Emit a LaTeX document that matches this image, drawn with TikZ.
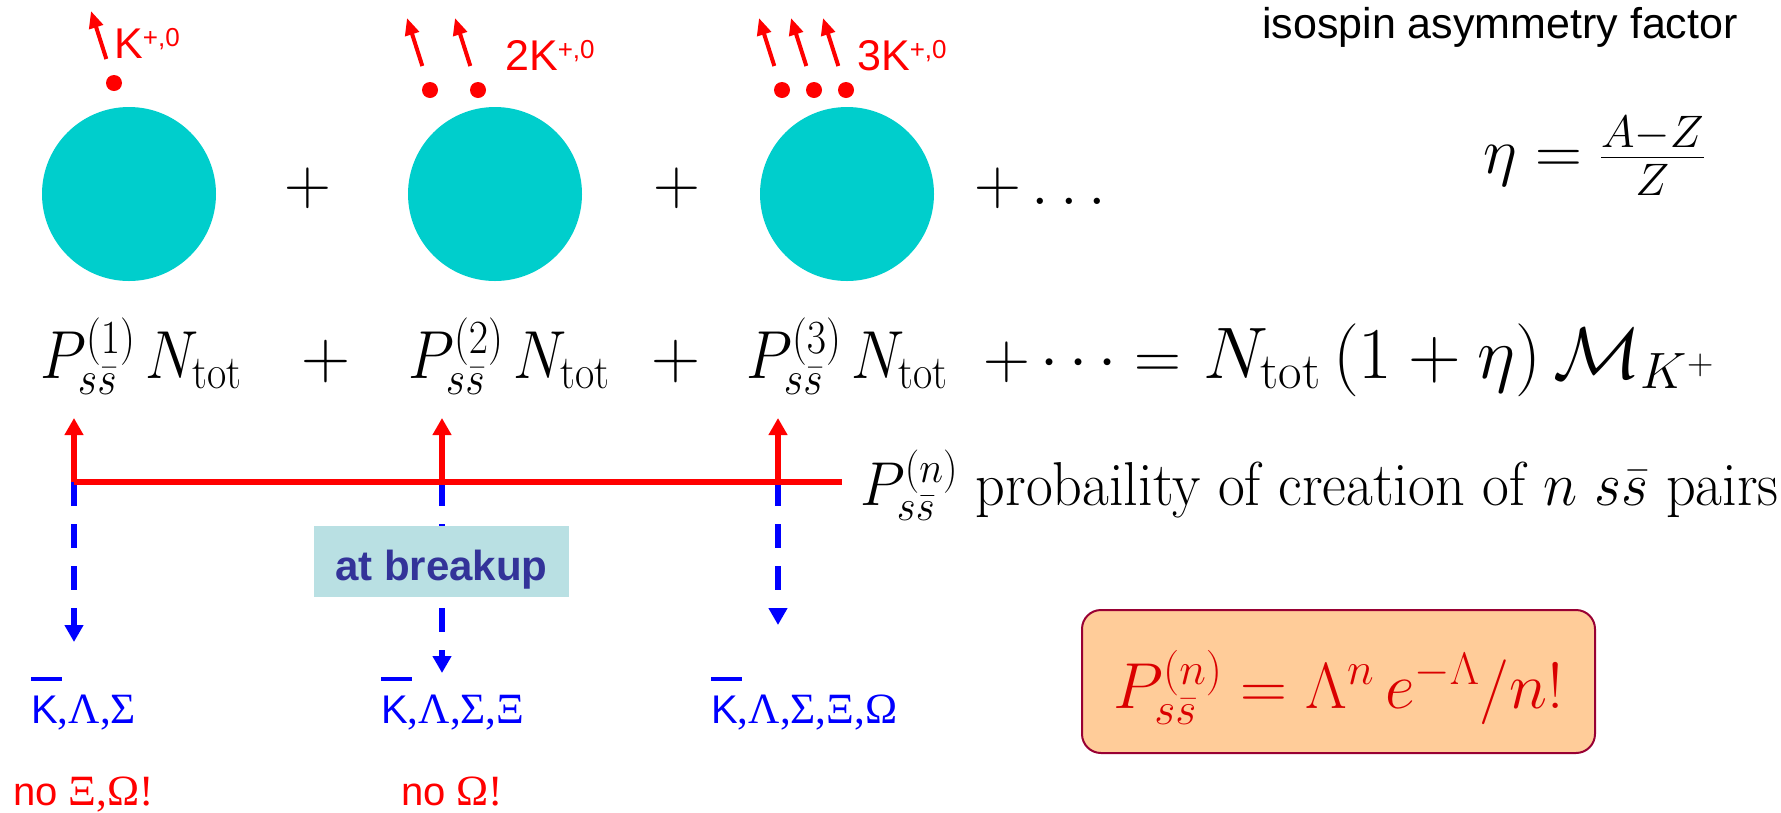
\RequirePackage{fix-cm}
\documentclass[tikz,border=0pt]{standalone}
\usepackage{fontspec}
\setsansfont{Liberation Sans}
\newfontfamily\grk[Scale=1.08]{Liberation Serif}
\usetikzlibrary{arrows.meta,calc}
\definecolor{nucleus}{RGB}{0,206,204}
\definecolor{kred}{RGB}{255,0,0}
\definecolor{hblue}{RGB}{0,0,255}
\definecolor{tagfill}{RGB}{185,224,227}
\definecolor{tagtext}{RGB}{51,51,153}
\definecolor{boxfill}{RGB}{255,204,153}
\definecolor{boxline}{RGB}{153,0,51}
\definecolor{formred}{RGB}{218,0,0}
\newcommand{\fsz}[1]{\fontsize{#1}{#1}\selectfont}
\newcommand{\kaons}[1]{#1K\raisebox{12pt}{\fsz{26}+,0}}
\newcommand{\antiK}{\rlap{\raisebox{1.05em}{\rule{0.78em}{0.09em}}}K}

\begin{document}
\begin{tikzpicture}[x=1pt,y=-1pt,
  nuc/.style={circle,fill=nucleus,minimum size=174pt,inner sep=0pt},
  kdot/.style={circle,fill=kred,minimum size=16pt,inner sep=0pt},
  kfly/.style={kred,line width=4pt,-{Triangle[width=14pt,length=17pt]},shorten <=17pt},
  klabel/.style={anchor=base west,inner sep=0pt,text=kred,font=\sffamily\fsz{43}},
  bigplus/.style={inner sep=0pt,font=\fsz{65}},
  term/.style={anchor=base west,inner sep=0pt,font=\fsz{68}},
  feed/.style={kred,line width=5.5pt},
  feedup/.style={feed,-{Triangle[width=18pt,length=17pt]}},
  drop/.style={hblue,line width=6pt,dash pattern=on 24pt off 18pt,-{Triangle[width=18pt,length=17pt]}},
  tag/.style={fill=tagfill,text=tagtext,font=\sffamily\bfseries\fsz{42},minimum width=255pt,
    minimum height=71pt,inner sep=0pt,text height=37pt,text depth=0pt},
  hyp/.style={anchor=base west,inner sep=0pt,text=hblue,font=\sffamily\fsz{40}},
  miss/.style={anchor=base west,inner sep=0pt,text=kred,font=\sffamily\fsz{40}},
  poisson/.style={draw=boxline,line width=2pt,fill=boxfill,rounded corners=19pt,
    minimum width=513pt,minimum height=143pt,inner sep=0pt,text=formred,font=\fsz{65},
    text height=60pt,text depth=7pt}]
\fill[white] (0,0) rectangle (1781,812);
\useasboundingbox (0,0) rectangle (1781,812);

% ---------------- nuclei with emitted kaons ----------------
\node[nuc] (c1) at (129,194) {};
\node[nuc] (c2) at (495,194) {};
\node[nuc] (c3) at (847,194) {};
\node[kdot] (d1) at (114,83) {};
\node[kdot] (d2a) at (430,90) {};
\node[kdot] (d2b) at (478,90) {};
\node[kdot] (d3a) at (782,90) {};
\node[kdot] (d3b) at (814,90) {};
\node[kdot] (d3c) at (846,90) {};
\foreach \d in {d1,d2a,d2b,d3a,d3b,d3c}{
  \coordinate (\d-tip) at ($(\d)+(-23,-72)$);
  \draw[kfly] (\d) -- (\d-tip);
}
\node[klabel] (k1) at (114,58) {\kaons{}};
\node[klabel] (k2) at (505,70) {\kaons{2}};
\node[klabel] (k3) at (857,70) {\kaons{3}};
\node[bigplus] (p1) at (308,188) {$+$};
\node[bigplus] (p2) at (677,188) {$+$};
\node[bigplus,anchor=base west] (pmore) at (974,204) {$+\ldots$};

% isospin factor
\node[anchor=base west,inner sep=0pt,font=\sffamily\fsz{43}] (iso) at (1262,38)
  {isospin asymmetry factor};
\node[anchor=base west,inner sep=0pt,font=\fsz{65}] (eta) at (1483,173)
  {$\eta = \frac{A-Z}{Z}$};

% ---------------- multiplicity sum ----------------
\node[term] (t1) at (40,378) {\scalebox{0.88}[1]{$P^{(1)}_{s\bar s}\,N_{\mathrm{tot}}$}};
\node[term,anchor=base] (q1) at (326,378) {$+$};
\node[term] (t2) at (408,378) {\scalebox{0.88}[1]{$P^{(2)}_{s\bar s}\,N_{\mathrm{tot}}$}};
\node[term,anchor=base] (q2) at (676,378) {$+$};
\node[term] (t3) at (746,378) {\scalebox{0.88}[1]{$P^{(3)}_{s\bar s}\,N_{\mathrm{tot}}$}};
\node[anchor=base west,inner sep=0pt,font=\fsz{65}] (sum) at (983,378)
  {$+\cdots=$\hspace{22pt}{\fsz{73}$N_{\mathrm{tot}}\,(1+\eta)\,\mathcal{M}_{K^+}$}};

% ---------------- pair-creation line ----------------
\coordinate (f1) at (74,482);
\coordinate (f2) at (442,482);
\coordinate (f3) at (778,482);
\coordinate (fend) at (842,482);
\coordinate (u1) at (74,418);
\coordinate (u2) at (442,418);
\coordinate (u3) at (778,418);
\coordinate (w1) at (74,642);
\coordinate (w2) at (442,673);
\coordinate (w3) at (778,625);
\draw[drop] (f1) -- (w1);
\draw[drop] (f2) -- (w2);
\draw[drop] (f3) -- (w3);
\draw[feed] (f1) -- (fend);
\draw[feedup] (f1) -- (u1);
\draw[feedup] (f2) -- (u2);
\draw[feedup] (f3) -- (u3);
\node[anchor=base west,inner sep=0pt,font=\fsz{62}] (leg) at (860,505)
  {\scalebox{0.94}[1]{$P^{(n)}_{s\bar s}$ probaility of creation of $n$ $s\bar s$ pairs}};
\node[tag] (brk) at (441.5,561.5) {at breakup};

% ---------------- hyperons at breakup ----------------
\node[hyp] (h1) at (31,723) {\antiK{\grk,Λ,Σ}};
\node[hyp] (h2) at (381,723) {\antiK{\grk,Λ,Σ,Ξ}};
\node[hyp] (h3) at (711,723) {\antiK{\grk,Λ,Σ,Ξ,Ω}};
\node[miss] (m1) at (13,805) {no {\grk Ξ,Ω!}};
\node[miss] (m2) at (401,805) {no {\grk Ω!}};

\node[poisson] (pois) at (1338.5,681.5)
  {$P^{(n)}_{s\bar s} = \Lambda^n\,e^{-\Lambda}/n!$\hspace{12pt}};
\end{tikzpicture}
\end{document}
